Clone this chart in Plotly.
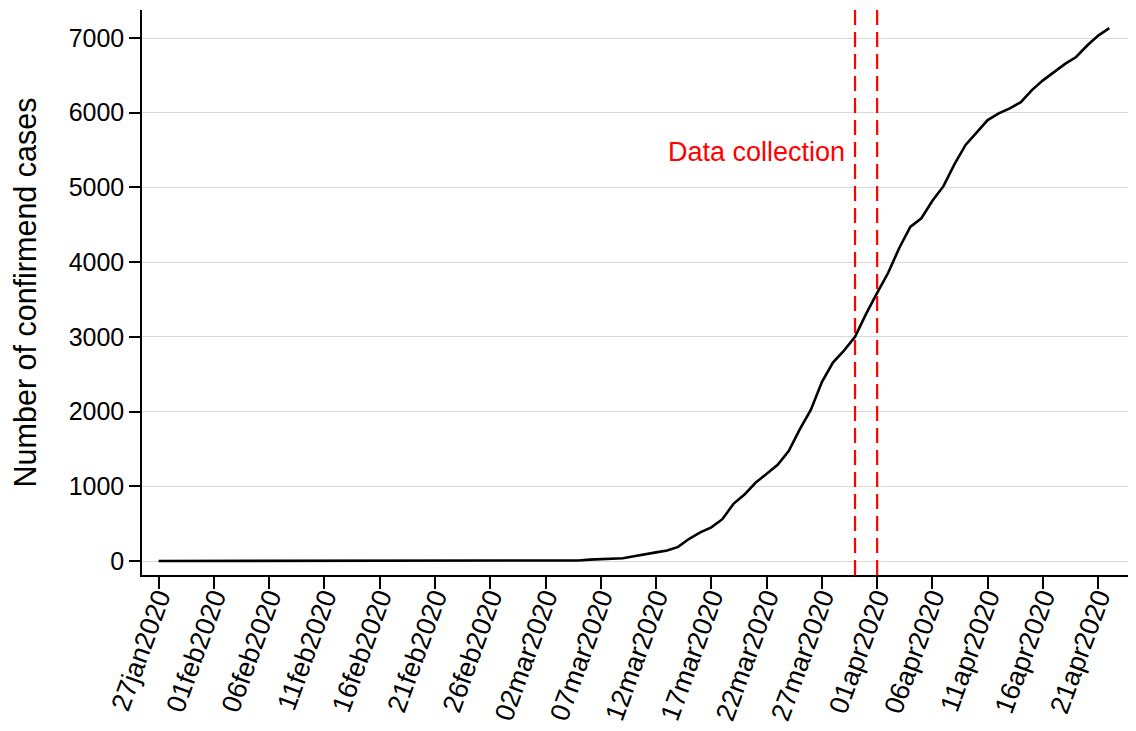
import plotly.graph_objects as go
import pandas as pd

# ---- data ----
start_date = "2020-01-27"
end_date = "2020-04-22"
# cumulative confirmed cases from 01mar2020 to 22apr2020 (zeros before)
march_april_cases = [
    3, 3, 5, 5, 8, 19, 26, 32, 38, 63, 94, 116, 141, 189, 298, 383, 450, 560,
    765, 889, 1047, 1161, 1287, 1472, 1763, 2022, 2395, 2657, 2817, 3001, 3308,
    3589, 3858, 4190, 4472, 4587, 4822, 5017, 5312, 5569, 5732, 5902, 5991,
    6059, 6141, 6303, 6433, 6549, 6654, 6746, 6900, 7033, 7132,
]
collection_dates = ["2020-03-30", "2020-04-01"]
collection_label = "Data collection"
y_ticks = [0, 1000, 2000, 3000, 4000, 5000, 6000, 7000]
y_title = "Number of confirmend cases"

dates = pd.date_range(start_date, end_date, freq="D")
n_zero = len(dates) - len(march_april_cases)
cases = [0] * n_zero + march_april_cases

tick_dates = pd.date_range(start_date, "2020-04-21", freq="5D")
tick_text = [d.strftime("%d%b%Y").lower() for d in tick_dates]

FONT = "Liberation Sans, Arial, sans-serif"

fig = go.Figure()
fig.add_trace(go.Scatter(
    x=dates, y=cases, mode="lines",
    line=dict(color="black", width=2.6),
    showlegend=False, hoverinfo="skip",
))

for d in collection_dates:
    fig.add_shape(type="line", xref="x", yref="paper",
                  x0=d, x1=d, y0=0, y1=1,
                  line=dict(color="#ff0000", width=2.2, dash="15px,7px"))

fig.add_annotation(x=collection_dates[0], y=5470, xref="x", yref="y",
                   text=collection_label, showarrow=False,
                   xanchor="right", yanchor="middle", xshift=-8,
                   font=dict(family=FONT, size=27, color="#ff0000"))

x_lo = pd.Timestamp(start_date) - pd.Timedelta(hours=36)
x_hi = pd.Timestamp(end_date) + pd.Timedelta(hours=58)

fig.update_layout(
    width=1128, height=723,
    margin=dict(l=134, r=0, t=2, b=156, autoexpand=False),
    paper_bgcolor="white", plot_bgcolor="white",
    font=dict(family=FONT, size=27, color="black"),
    xaxis=dict(
        type="date", range=[x_lo, x_hi],
        tickmode="array", tickvals=tick_dates, ticktext=tick_text,
        tickangle=-70, ticks="outside", ticklen=12, tickwidth=1.5,
        tickcolor="black", showgrid=False, zeroline=False,
        showline=True, linecolor="black", linewidth=1.5,
        tickfont=dict(family=FONT, size=27), ticklabelstandoff=-18,
        automargin=False,
    ),
    yaxis=dict(
        range=[-187, 7375], tickmode="array", tickvals=y_ticks,
        ticks="outside", ticklen=11, tickwidth=1.5, tickcolor="black",
        showgrid=True, gridcolor="#d9d9d9", gridwidth=1, zeroline=False,
        showline=True, linecolor="black", linewidth=1.5,
        title=dict(text=y_title, font=dict(family=FONT, size=30.5), standoff=26),
        tickfont=dict(family=FONT, size=25), automargin=False,
    ),
)

fig.write_html("out.html")
